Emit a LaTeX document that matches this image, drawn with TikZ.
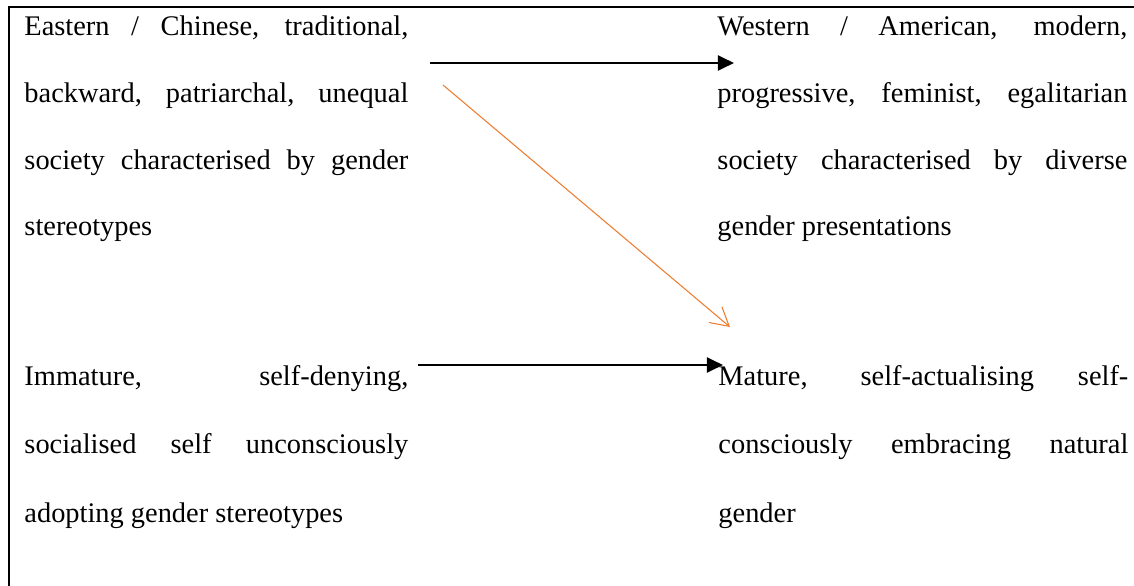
\documentclass[tikz,border=0pt]{standalone}
\usepackage{fontspec}
\setmainfont{Liberation Serif}
\usepackage{tikz}
\usetikzlibrary{arrows.meta,positioning}
\definecolor{wordorange}{RGB}{237,125,49}
\tolerance=10000
\hbadness=10000
\hyphenpenalty=10000

\begin{document}
\begin{tikzpicture}[
  x=0.4225pt, y=-0.4225pt,
  column/.style={
    anchor=base west, inner sep=0pt, align=justify,
    font=\fontsize{12}{28.1}\selectfont
  },
  leftcol/.style={column, text width=162.2pt},
  rightcol/.style={column, text width=173.2pt},
  lowrow/.style={font=\fontsize{12}{29.1}\selectfont},
  shiftarr/.style={-{Triangle[length=6.8pt,width=6.3pt]}, line width=1.05pt, black},
  crossarr/.style={-{Straight Barb[length=7.6pt,width=8.6pt]}, line width=0.45pt, wordorange},
]
\useasboundingbox (0,0) rectangle (1134,586);
% ── Frame ──
\draw[line width=0.85pt] (9,586) -- (9,7) -- (1134,7);

% ── Nodes ──
\node[leftcol] (eastern) at (24,36)
  {Eastern / Chinese, traditional,\linebreak backward, patriarchal, unequal\linebreak society characterised by gender\linebreak stereotypes};

\node[rightcol] (western) at (717,36)
  {Western / American, modern,\linebreak progressive, feminist, egalitarian\linebreak society characterised by diverse\linebreak gender presentations};

\node[leftcol, lowrow] (immature) at (24,385)
  {Immature, self-denying,\linebreak socialised self unconsciously\linebreak adopting gender stereotypes};

\node[rightcol, lowrow] (mature) at (718,385)
  {Mature, self-actualising self-\linebreak consciously embracing natural\linebreak gender};

\coordinate (topfrom) at (430,63);
\coordinate (topto) at (734,63);
\coordinate (crossfrom) at (443,85);
\coordinate (crossto) at (730,327);
\coordinate (lowfrom) at (418,365);
\coordinate (lowto) at (723,365);

% ── Edges ──
\draw[shiftarr] (topfrom) -- (topto);
\draw[crossarr] (crossfrom) -- (crossto);
\draw[shiftarr] (lowfrom) -- (lowto);
\end{tikzpicture}
\end{document}
